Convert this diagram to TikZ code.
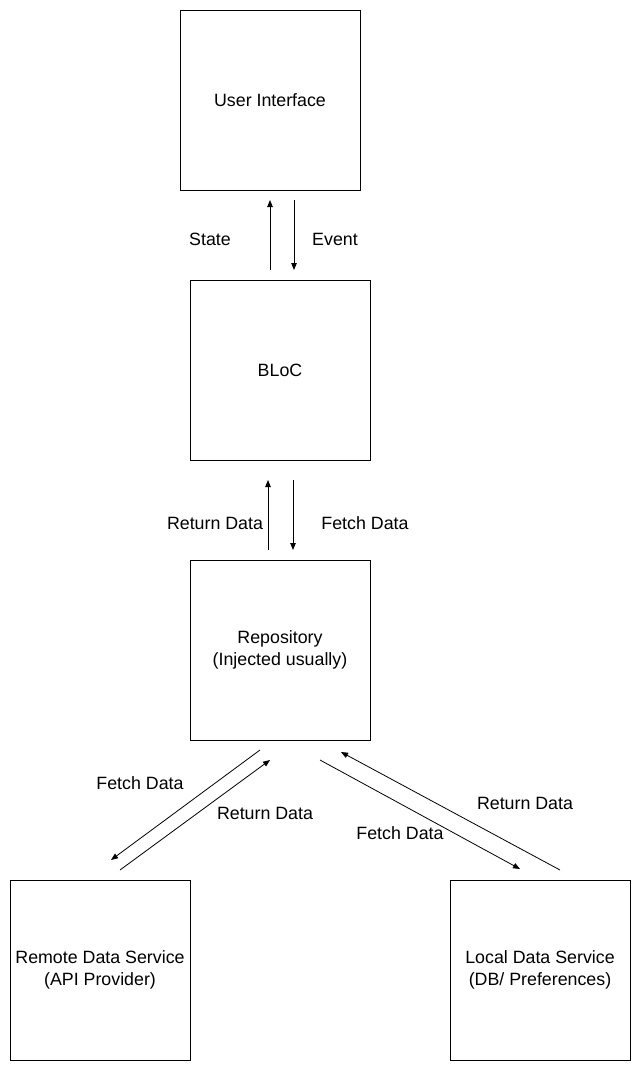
\documentclass[tikz,border=0pt]{standalone}
\usepackage{fontspec}
\setmainfont{Liberation Sans}
\usetikzlibrary{arrows.meta}
\begin{document}
\begin{tikzpicture}[x=1pt,y=-1pt,
  box/.style={draw,line width=1pt,minimum width=180pt,minimum height=180pt,inner sep=0pt,align=center,font=\fontsize{17.8}{22}\selectfont},
  lbl/.style={font=\fontsize{17.8}{21.5}\selectfont,inner sep=0pt},
  flow/.style={line width=0.8pt,-{Triangle[length=7pt,width=5.5pt]}}]
\useasboundingbox[fill=white] (0,0) rectangle (641,1071);
\node[box] (ui) at (270,100) {User Interface};
\node[box] (bloc) at (280,370) {BLoC};
\node[box] (repo) at (280,650) {Repository\\(Injected usually)};
\node[box] (remote) at (100,970) {Remote Data Service\\(API Provider)};
\node[box] (local) at (540,970) {Local Data Service\\(DB/ Preferences)};
% UI <-> BLoC
\coordinate (s1) at (270,270); \coordinate (s2) at (270,200);
\coordinate (e1) at (294,200); \coordinate (e2) at (294,270);
\draw[flow] (s1) -- (s2);
\draw[flow] (e1) -- (e2);
\node[lbl] (lstate) at (210,239) {State};
\node[lbl] (levent) at (335,239) {Event};
% BLoC <-> Repo
\coordinate (r1) at (268,550); \coordinate (r2) at (268,480);
\coordinate (f1) at (293,480); \coordinate (f2) at (293,550);
\draw[flow] (r1) -- (r2);
\draw[flow] (f1) -- (f2);
\node[lbl] (lret1) at (215,523) {Return Data};
\node[lbl] (lfet1) at (365,523) {Fetch Data};
% Repo <-> Remote
\coordinate (a1) at (260,750); \coordinate (a2) at (111,860);
\coordinate (b1) at (120,870); \coordinate (b2) at (270,760);
\draw[flow] (a1) -- (a2);
\draw[flow] (b1) -- (b2);
\node[lbl] (lfet2) at (140,783) {Fetch Data};
\node[lbl] (lret2) at (265,813) {Return Data};
% Repo <-> Local
\coordinate (c1) at (320,760); \coordinate (c2) at (520,869);
\coordinate (d1) at (560,870); \coordinate (d2) at (341,752);
\draw[flow] (c1) -- (c2);
\draw[flow] (d1) -- (d2);
\node[lbl] (lfet3) at (400,833) {Fetch Data};
\node[lbl] (lret3) at (525,803) {Return Data};
\end{tikzpicture}
\end{document}
